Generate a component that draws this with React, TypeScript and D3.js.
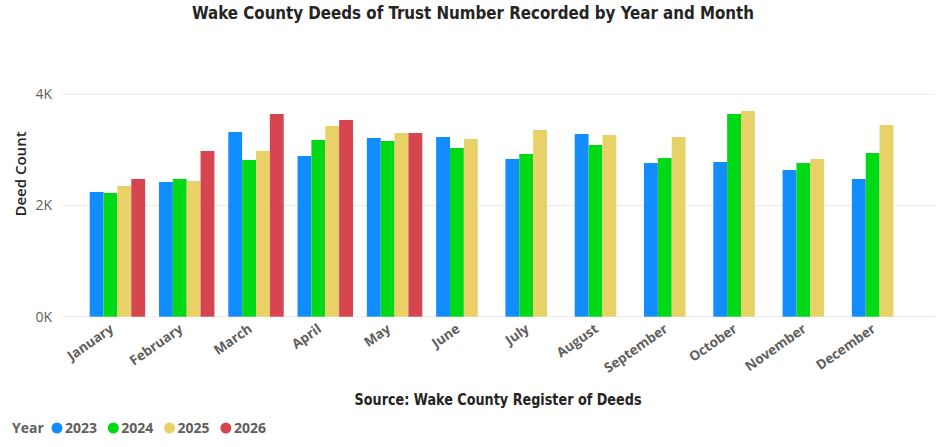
import React, { useEffect, useRef } from "react";
import * as d3 from "d3";

const months = [
  "January", "February", "March", "April", "May", "June",
  "July", "August", "September", "October", "November", "December",
];
const years = ["2023", "2024", "2025", "2026"];
const colors = ["#118DFF", "#00D916", "#E8D166", "#D64550"];

// deed counts per month
const deeds2023 = [2243, 2423, 3322, 2890, 3214, 3232, 2836, 3286, 2764, 2782, 2638, 2477];
const deeds2024 = [2225, 2477, 2818, 3178, 3160, 3034, 2926, 3088, 2854, 3646, 2764, 2944];
const deeds2025 = [2351, 2441, 2980, 3430, 3304, 3196, 3358, 3268, 3232, 3700, 2836, 3448];
const deeds2026 = [2477, 2980, 3646, 3538, 3304, null, null, null, null, null, null, null];

const yTicks = [0, 2000, 4000];

const App = () => {
  const chartRef = useRef<SVGSVGElement>(null);

  useEffect(() => {
    const svg = d3.select(chartRef.current);
    svg.selectAll("*").remove();

    const series = [deeds2023, deeds2024, deeds2025, deeds2026];
    const rows = months.map((m, i) => ({ month: m, values: series.map(s => s[i]) }));

    const x0 = d3.scaleBand().domain(months).range([62, 935]).paddingInner(0.2).paddingOuter(0.4);
    const x1 = d3.scaleBand().domain(years).range([0, x0.bandwidth()]);
    const y = d3.scaleLinear().domain([0, 4000]).range([316.7, 94.3]);

    // Title
    svg.append("text")
      .attr("x", 473)
      .attr("y", 19)
      .attr("text-anchor", "middle")
      .attr("font-family", "'DejaVu Sans Condensed', 'DejaVu Sans'")
      .attr("font-weight", "bold")
      .attr("font-size", 17)
      .attr("fill", "#252423")
      .attr("textLength", 562)
      .attr("lengthAdjust", "spacingAndGlyphs")
      .text("Wake County Deeds of Trust Number Recorded by Year and Month");

    // Gridlines
    svg.append("g")
      .selectAll("line")
      .data(yTicks)
      .join("line")
      .attr("x1", 62)
      .attr("x2", 935)
      .attr("y1", d => y(d))
      .attr("y2", d => y(d))
      .attr("stroke", "#EDEBE9")
      .attr("stroke-width", 1);

    // Y tick labels
    svg.append("g")
      .selectAll("text")
      .data(yTicks)
      .join("text")
      .attr("x", 52)
      .attr("y", d => y(d))
      .attr("dy", "0.35em")
      .attr("text-anchor", "end")
      .attr("font-family", "'Open Sans', sans-serif")
      .attr("font-size", 14)
      .attr("fill", "#605E5C")
      .text(d => d3.format(".0f")(d / 1000) + "K");

    // Y axis title
    svg.append("text")
      .attr("transform", "translate(26,174) rotate(-90)")
      .attr("text-anchor", "middle")
      .attr("font-family", "'Open Sans', sans-serif")
      .attr("font-weight", 600)
      .attr("font-size", 15)
      .attr("fill", "#252423")
      .text("Deed Count");

    // Bars
    const groups = svg.append("g")
      .selectAll("g")
      .data(rows)
      .join("g")
      .attr("transform", d => `translate(${x0(d.month)},0)`);

    groups.selectAll("rect")
      .data(d => d.values.map((v, i) => ({ year: years[i], value: v, color: colors[i] })).filter(d => d.value != null))
      .join("rect")
      .attr("x", d => x1(d.year)!)
      .attr("width", x1.bandwidth())
      .attr("y", d => y(d.value as number))
      .attr("height", d => y(0) - y(d.value as number))
      .attr("fill", d => d.color);

    // X labels
    svg.append("g")
      .selectAll("text")
      .data(months)
      .join("text")
      .attr("transform", d => `translate(${x0(d)! + x0.bandwidth() / 2 - 3},${331}) rotate(-35)`)
      .attr("text-anchor", "end")
      .attr("font-family", "'Open Sans', sans-serif")
      .attr("font-weight", "bold")
      .attr("font-size", 13.5)
      .attr("fill", "#605E5C")
      .text(d => d);

    // Source
    svg.append("text")
      .attr("x", 498)
      .attr("y", 405)
      .attr("text-anchor", "middle")
      .attr("font-family", "'DejaVu Sans Condensed', 'DejaVu Sans'")
      .attr("font-weight", "bold")
      .attr("font-size", 15)
      .attr("fill", "#252423")
      .attr("textLength", 287)
      .attr("lengthAdjust", "spacingAndGlyphs")
      .text("Source: Wake County Register of Deeds");

    // Legend
    const legend = svg.append("g").attr("transform", "translate(0,428)");
    legend.append("text")
      .attr("x", 12)
      .attr("dy", "0.35em")
      .attr("font-family", "'Open Sans', sans-serif")
      .attr("font-weight", "bold")
      .attr("font-size", 14)
      .attr("fill", "#605E5C")
      .text("Year");
    const items = legend.selectAll("g.item")
      .data(years)
      .join("g")
      .attr("class", "item")
      .attr("transform", (d, i) => `translate(${57 + i * 56.3},0)`);
    items.append("circle").attr("r", 5.5).attr("fill", (d, i) => colors[i]);
    items.append("text")
      .attr("x", 8)
      .attr("dy", "0.35em")
      .attr("font-family", "'Open Sans', sans-serif")
      .attr("font-weight", "bold")
      .attr("font-size", 14)
      .attr("fill", "#605E5C")
      .text(d => d);
  }, []);

  return (
    <svg
      ref={chartRef}
      width={939}
      height={447}
      style={{ position: "absolute", left: 0, top: 0, background: "#fff" }}
    ></svg>
  );
};

export default App;
